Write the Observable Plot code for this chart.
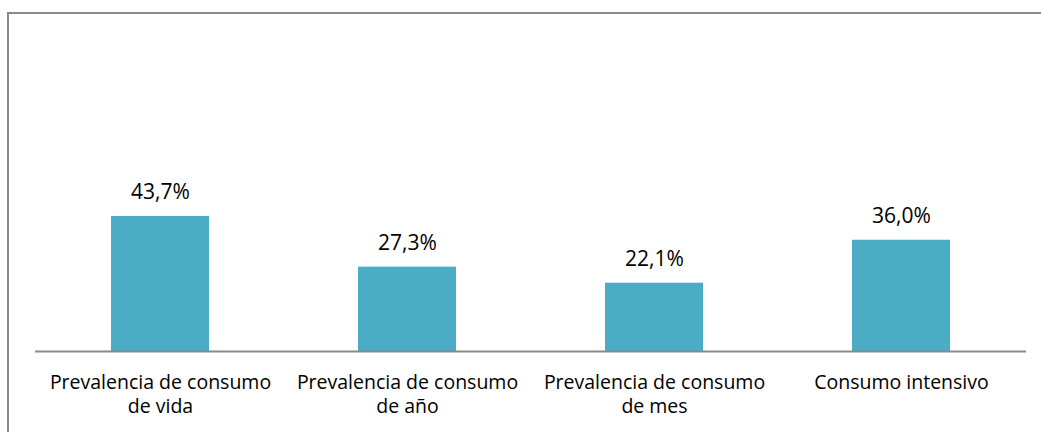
<!DOCTYPE html>
<html>
<head>
<meta charset="utf-8">
<script src="https://cdn.jsdelivr.net/npm/d3@7"></script>
<script src="https://cdn.jsdelivr.net/npm/@observablehq/plot@0.6"></script>
<style>
  html, body { margin: 0; padding: 0; background: #fff; }
  #wrap { position: relative; width: 1041px; height: 432px; overflow: hidden; }
  #frame { position: absolute; left: 7px; top: 12px; right: -5px; bottom: -5px;
           border-top: 2px solid #898989; border-left: 2px solid #898989; }
  #chart { position: absolute; left: 0; top: 0; }
</style>
</head>
<body>
<div id="wrap"><div id="frame"></div><div id="chart"></div></div>
<script>
const categories = [
  "Prevalencia de consumo\nde vida",
  "Prevalencia de consumo\nde año",
  "Prevalencia de consumo\nde mes",
  "Consumo intensivo"
];
const values = [43.7, 27.3, 22.1, 36.0];
const valueLabels = ["43,7%", "27,3%", "22,1%", "36,0%"];

const data = categories.map((c, i) => ({cat: c, v: values[i], label: valueLabels[i]}));

const font = "'Open Sans', sans-serif";
const chart = Plot.plot({
  width: 1041,
  height: 432,
  marginLeft: 35,
  marginRight: 15,
  marginTop: 42,
  marginBottom: 81,
  style: {fontFamily: font, fontSize: "19.5px", color: "#000", background: "transparent"},
  x: {domain: categories, paddingInner: 0.604, paddingOuter: 0.302, label: null},
  y: {domain: [0, 100], axis: null},
  marks: [
    Plot.barY(data, {x: "cat", y: "v", fill: "#4BACC6"}),
    Plot.ruleY([0], {stroke: "#898989", strokeWidth: 2}),
    Plot.text(data, {x: "cat", y: "v", text: "label", dy: -17, lineAnchor: "bottom", fontSize: 21, fill: "#000"}),
    Plot.axisX({tickSize: 0, tickPadding: 20, fontSize: 19.5, lineHeight: 1.25, label: null, fill: "#000"})
  ]
});
document.getElementById("chart").appendChild(chart);
</script>
</body>
</html>
